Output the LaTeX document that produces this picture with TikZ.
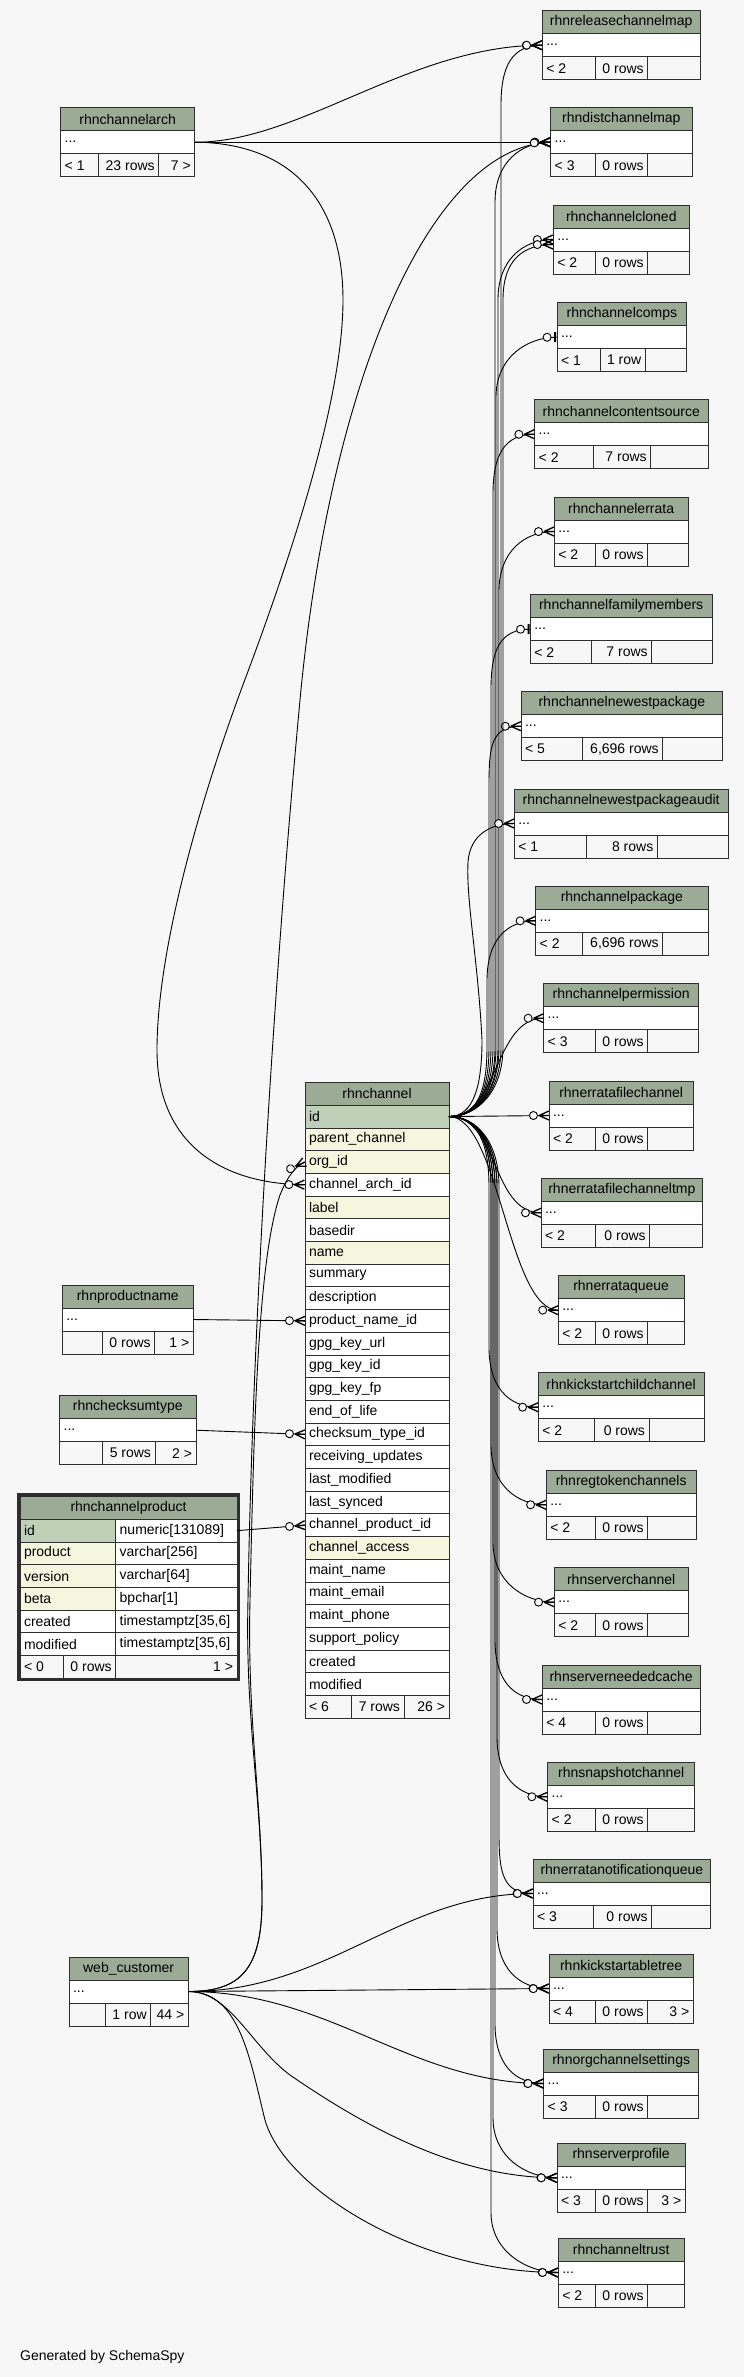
\documentclass[tikz,border=0pt]{standalone}
\usepackage{fontspec}
\setmainfont{Liberation Sans}
\usepackage{xcolor}
\usetikzlibrary{decorations.markings}

\definecolor{bgc}{HTML}{F7F7F7}
\definecolor{headc}{HTML}{9BAB96}
\definecolor{pkc}{HTML}{BED1B8}
\definecolor{ixc}{HTML}{F4F6DE}
\definecolor{boxline}{HTML}{2E2E2E}

\tikzset{
  cell/.style={draw=boxline, line width=0.8pt, anchor=north west, outer sep=0pt,
    inner xsep=4pt, inner ysep=1pt, minimum height=23pt,
    font=\fontsize{14}{17}\selectfont, text=black},
  tblhead/.style={cell, fill=headc},
  tblrow/.style={cell, fill=white},
  tblfoot/.style={cell, fill=bgc},
  col pk/.style={cell, fill=pkc},
  col ix/.style={cell, fill=ixc},
  col pl/.style={cell, fill=white},
  fk/.style={line width=0.9pt, black},
  crow many/.style={postaction={decorate, decoration={markings,
    mark=at position 0.9995 with {\draw[line width=0.9pt, fill=bgc] (-15.5,0) circle (4pt);
      \draw[line width=1.3pt] (-10,0) -- (0,4.5) (-10,0) -- (0,-4.5) (-10,0) -- (0,0);}}}},
  crow one/.style={postaction={decorate, decoration={markings,
    mark=at position 0.9995 with {\draw[line width=0.9pt, fill=bgc] (-9.5,0) circle (4pt);
      \draw[line width=2pt] (-1.5,-5) -- (-1.5,5);}}}},
}

\def\erdgeo#1,#2,#3,#4,#5\relax{\def\erdx{#1}\def\erdy{#2}\def\erdr{#3}\def\erda{#4}\def\erdb{#5}}
\newcommand\erdtable[6]{%
  \erdgeo#3\relax
  \pgfmathsetmacro\erdw{\erdr-\erdx}%
  \pgfmathsetmacro\erdwa{\erda-\erdx}%
  \pgfmathsetmacro\erdwb{\erdb-\erda}%
  \pgfmathsetmacro\erdwc{\erdr-\erdb}%
  \node[tblhead, minimum width=\erdw pt] (#1) at (\erdx,\erdy) {#2};
  \node[tblrow, minimum width=\erdw pt] (#1-r) at (\erdx,\erdy+23)
    {\makebox[\dimexpr\erdw pt-8pt\relax][l]{...}};
  \node[tblfoot, minimum width=\erdwa pt] (#1-a) at (\erdx,\erdy+46)
    {\makebox[\dimexpr\erdwa pt-8pt\relax][l]{#4}};
  \node[tblfoot, minimum width=\erdwb pt] (#1-b) at (\erda,\erdy+46)
    {\makebox[\dimexpr\erdwb pt-8pt\relax][r]{#5}};
  \node[tblfoot, minimum width=\erdwc pt] (#1-c) at (\erdb,\erdy+46)
    {\makebox[\dimexpr\erdwc pt-8pt\relax][r]{#6}};
}

\begin{document}
\begin{tikzpicture}[x=1pt, y=-1pt]
    \useasboundingbox (0,0) rectangle (744,2377);
    \fill[bgc] (0,0) rectangle (744,2377);

    \erdtable{relmap}{rhnreleasechannelmap}{542.3,10.7,700,595.7,647.7}{< 2}{0 rows}{}
    \erdtable{distmap}{rhndistchannelmap}{550.7,107.7,692,595.7,647.7}{< 3}{0 rows}{}
    \erdtable{cloned}{rhnchannelcloned}{553.3,205,689.3,595.7,647.7}{< 2}{0 rows}{}
    \erdtable{comps}{rhnchannelcomps}{557,302.7,686.7,600,645.3}{< 1}{1 row}{}
    \erdtable{csource}{rhnchannelcontentsource}{534.7,399.7,708,593,650.7}{< 2}{7 rows}{}
    \erdtable{errata}{rhnchannelerrata}{554.3,497,688,595.7,647.7}{< 2}{0 rows}{}
    \erdtable{famm}{rhnchannelfamilymembers}{530.3,594.7,712,591.7,651.7}{< 2}{7 rows}{}
    \erdtable{newest}{rhnchannelnewestpackage}{521,691.7,722.7,582.7,662.7}{< 5}{6,696 rows}{}
    \erdtable{audit}{rhnchannelnewestpackageaudit}{514.3,789,728,586.7,657.3}{< 1}{8 rows}{}
    \erdtable{pkg}{rhnchannelpackage}{535.7,886.3,708,582.7,662.7}{< 2}{6,696 rows}{}
    \erdtable{perm}{rhnchannelpermission}{543.7,983.7,698.7,595.7,647.7}{< 3}{0 rows}{}
    \erdtable{efc}{rhnerratafilechannel}{549,1081,693.3,595.7,647.7}{< 2}{0 rows}{}
    \erdtable{efctmp}{rhnerratafilechanneltmp}{541,1178.3,702.7,595.7,649.7}{< 2}{0 rows}{}
    \erdtable{equeue}{rhnerrataqueue}{558.3,1275.7,684,595.7,647.7}{< 2}{0 rows}{}
    \erdtable{kscc}{rhnkickstartchildchannel}{538.3,1372.7,704,594.7,649}{< 2}{0 rows}{}
    \erdtable{regtok}{rhnregtokenchannels}{546.3,1470.3,696,595.7,647.7}{< 2}{0 rows}{}
    \erdtable{srvch}{rhnserverchannel}{554.3,1567.7,688,595.7,647.7}{< 2}{0 rows}{}
    \erdtable{needcache}{rhnserverneededcache}{542.3,1665,700,595.7,647.7}{< 4}{0 rows}{}
    \erdtable{snap}{rhnsnapshotchannel}{547.7,1762.3,694.7,595.7,647.7}{< 2}{0 rows}{}
    \erdtable{enq}{rhnerratanotificationqueue}{533,1859,710.7,593,651.7}{< 3}{0 rows}{}
    \erdtable{kstree}{rhnkickstartabletree}{549,1954,693.3,595.7,647.7}{< 4}{0 rows}{3 >}
    \erdtable{orgset}{rhnorgchannelsettings}{543.7,2049,698.7,595.7,647.7}{< 3}{0 rows}{}
    \erdtable{srvprof}{rhnserverprofile}{557,2143.3,685.3,595.7,647.7}{< 3}{0 rows}{3 >}
    \erdtable{trust}{rhnchanneltrust}{558.3,2238,684,595.7,647.7}{< 2}{0 rows}{}

    \erdtable{arch}{rhnchannelarch}{60.7,107.7,194.7,98.3,158.7}{< 1}{23 rows}{7 >}
    \erdtable{prodname}{rhnproductname}{62.3,1285,193.3,102.7,154.7}{}{0 rows}{1 >}
    \erdtable{cksum}{rhnchecksumtype}{59.7,1395.7,196,102.7,155}{}{5 rows}{2 >}
    \erdtable{webcust}{web\_customer}{69,1957,188.3,105,150.7}{}{1 row}{44 >}

    \node[tblhead, minimum width=144pt, minimum height=22.7pt] (chan) at (305,1082.5) {rhnchannel};
    \foreach \col/\kind [count=\i] in {id/pk, parent\_channel/ix, org\_id/ix, channel\_arch\_id/pl,
        label/ix, basedir/pl, name/ix, summary/pl, description/pl, product\_name\_id/pl,
        gpg\_key\_url/pl, gpg\_key\_id/pl, gpg\_key\_fp/pl, end\_of\_life/pl, checksum\_type\_id/pl,
        receiving\_updates/pl, last\_modified/pl, last\_synced/pl, channel\_product\_id/pl,
        channel\_access/ix, maint\_name/pl, maint\_email/pl, maint\_phone/pl, support\_policy/pl,
        created/pl, modified/pl}
        \node[col \kind, minimum width=144pt, minimum height=22.7pt] (chan-\i) at (305,1082.5+22.7*\i)
            {\makebox[136pt][l]{\col}};
    \node[tblfoot, minimum width=46.7pt, minimum height=22.7pt] (chan-a) at (305,1695.4) {\makebox[38.7pt][l]{< 6}};
    \node[tblfoot, minimum width=52.3pt, minimum height=22.7pt] (chan-b) at (351.7,1695.4) {\makebox[44.3pt][r]{7 rows}};
    \node[tblfoot, minimum width=45pt, minimum height=22.7pt] (chan-c) at (404,1695.4) {\makebox[37pt][r]{26 >}};

    \node[tblhead, minimum width=217pt, minimum height=22.8pt] (cprod) at (20,1496.5) {rhnchannelproduct};
    \foreach \col/\typ/\kind [count=\i] in {id/{numeric[131089]}/pk, product/{varchar[256]}/ix,
        version/{varchar[64]}/ix, beta/{bpchar[1]}/ix, created/{timestamptz[35,6]}/pl,
        modified/{timestamptz[35,6]}/pl}{
        \node[col \kind, minimum width=95.7pt, minimum height=22.7pt] (cprod-\i) at (20,1496.6+22.7*\i)
            {\makebox[87.7pt][l]{\col}};
        \node[col pl, minimum width=121.3pt, minimum height=22.7pt] (cprod-t\i) at (115.7,1496.6+22.7*\i)
            {\makebox[113.3pt][l]{\typ}};
    }
    \node[tblfoot, minimum width=43.7pt, minimum height=22.7pt] (cprod-a) at (20,1655.5) {\makebox[35.7pt][l]{< 0}};
    \node[tblfoot, minimum width=52pt, minimum height=22.7pt] (cprod-b) at (63.7,1655.5) {\makebox[44pt][r]{0 rows}};
    \node[tblfoot, minimum width=121.3pt, minimum height=22.7pt] (cprod-c) at (115.7,1655.5) {\makebox[113.3pt][r]{1 >}};
    \draw[boxline, line width=3pt] (18.2,1494.2) rectangle (238.6,1679.6);

    \foreach \tg/\bx/\ty/\kind in {relmap/501/45.2/many, distmap/495/142.2/many, cloned/498/239.5/many,
        comps/496/337.2/one, csource/493/434.2/many, errata/499/531.5/many, famm/491/629.2/one,
        newest/489/726.2/many, pkg/487/920.8/many, kscc/489/1407.2/many, regtok/491/1504.8/many,
        srvch/493/1602.2/many, needcache/495/1699.5/many, snap/497/1796.8/many, enq/499/1893.5/many,
        kstree/497/1988.5/many, orgset/495/2083.5/many, srvprof/493/2177.8/many, trust/491/2272.5/many}{
        \pgfmathsetmacro\dirs{\ty<1117 ? -1 : 1}
        \pgfmathsetmacro\ya{1117+70*\dirs}
        \pgfmathsetmacro\yc{-45*\dirs}
        \pgfmathsetmacro\yb{\ty-60*\dirs}
        \pgfmathsetmacro\yd{40*\dirs}
        \draw[fk, crow \kind] (chan-1.east) .. controls +(28,0) and +(0,\yc) .. (\bx,\ya)
            -- (\bx,\yb) .. controls +(0,\yd) and +(-30,0) .. (\tg-r.west);
    }
    \draw[fk, crow many] (chan-1.east) .. controls +(28,0) and +(0,45) .. (503,1047)
        -- (503,299.5) .. controls +(0,-40) and +(-30,0) .. ([yshift=-5pt]cloned-r.west);
    \foreach \tg in {perm, efc, efctmp, equeue}
        \draw[fk, crow many] (chan-1.east) .. controls +(50,0) and +(-50,0) .. (\tg-r.west);
    \draw[fk, crow many] (chan-1.east) .. controls +(25,0) and +(0,45) .. (482,1040)
        .. controls (478,960) and (466,900) .. (468,862) .. controls (470,835) and (490,823.5) .. (audit-r.west);

    \draw[fk, crow many] (arch-r.east) .. controls (300,142.8) and (410,45.2) .. (relmap-r.west);
    \draw[fk, crow many] (arch-r.east) -- (distmap-r.west);
    \draw[fk, crow many] (arch-r.east) .. controls (290,142.8) and (343,200) .. (343,300)
        .. controls (343,400) and (290,560) .. (244,682) .. controls (200,800) and (157,950) .. (157,1050)
        .. controls (157,1150) and (230,1184.6) .. (chan-4.west);

    \draw[fk, crow many] (prodname-r.east) -- (chan-10.west);
    \draw[fk, crow many] (cksum-r.east) -- (chan-15.west);
    \draw[fk, crow many] (cprod-t1.east) -- (chan-19.west);

    \draw[fk, crow many] (webcust-r.east) .. controls (240,1991.5) and (262,1970) .. (262,1900)
        .. controls (262,1800) and (247,1720) .. (250,1600) .. controls (254,1420) and (258,1260) .. (280,1195)
        .. controls (288,1175) and (296,1166) .. (chan-3.west);
    \draw[fk, crow many] (webcust-r.east) .. controls (240,1991.5) and (262,1970) .. (262,1900)
        .. controls (262,1800) and (245,1720) .. (248,1600) .. controls (252,1350) and (272,1000) .. (300,700)
        .. controls (330,380) and (430,146) .. (distmap-r.west);
    \draw[fk, crow many] (webcust-r.east) .. controls (330,1991.5) and (400,1893.5) .. (enq-r.west);
    \draw[fk, crow many] (webcust-r.east) -- (kstree-r.west);
    \draw[fk, crow many] (webcust-r.east) .. controls (330,1991.5) and (410,2083.5) .. (orgset-r.west);
    \draw[fk, crow many] (webcust-r.east) .. controls (230,1991.5) and (250,2045) .. (290,2075)
        .. controls (370,2130) and (460,2177.8) .. (srvprof-r.west);
    \draw[fk, crow many] (webcust-r.east) .. controls (240,1991.5) and (250,2060) .. (265,2120)
        .. controls (285,2190) and (420,2272.5) .. (trust-r.west);

    \node[font=\fontsize{14}{17}\selectfont, anchor=base west] (credit) at (16.7,2360) {Generated by SchemaSpy};
\end{tikzpicture}
\end{document}
